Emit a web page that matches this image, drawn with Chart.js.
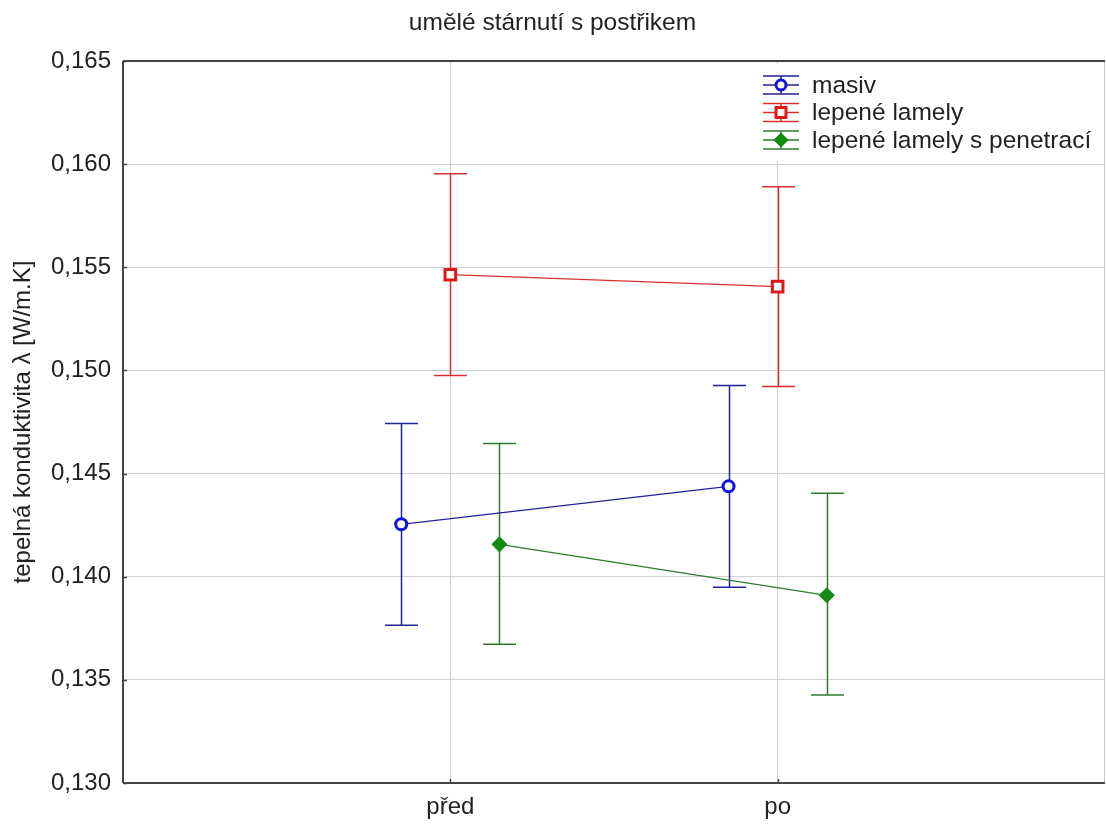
<!DOCTYPE html>
<html>
<head>
<meta charset="utf-8">
<script src="https://cdn.jsdelivr.net/npm/chart.js@4/dist/chart.umd.min.js"></script>
<style>
  html, body { margin: 0; padding: 0; background: #fff; overflow: hidden; }
  #wrap { width: 1106px; height: 825px; }
  canvas { display: block; }
</style>
</head>
<body>
<div id="wrap"><canvas id="chart" width="1106" height="825"></canvas></div>
<script>
const categories = ['před', 'po'];
const seriesNames = ['masiv', 'lepené lamely', 'lepené lamely s penetrací'];
const offsets = [-0.15, 0, 0.15];

const masivMean = [0.14254, 0.14438];
const masivLow = [0.13765, 0.13949];
const masivHigh = [0.14743, 0.14927];

const lamelyMean = [0.15464, 0.15406];
const lamelyLow = [0.14975, 0.14922];
const lamelyHigh = [0.15953, 0.15890];

const penetraceMean = [0.14157, 0.13910];
const penetraceLow = [0.13673, 0.13426];
const penetraceHigh = [0.14646, 0.14404];

const yTicks = [0.130, 0.135, 0.140, 0.145, 0.150, 0.155, 0.160, 0.165];

const markerColors = ['#1010e0', '#e01818', '#138a13'];
const lineColors = ['#22229a', '#d83030', '#2e7d2e'];
const pointStyles = ['circle', 'rect', 'rectRot'];
const pointRadius = [5.5, 7.5, 7];
const pointBorder = [3, 3, 1.5];
const pointFill = ['#ffffff', '#ffffff', '#138a13'];

const means = [masivMean, lamelyMean, penetraceMean];
const lows = [masivLow, lamelyLow, penetraceLow];
const highs = [masivHigh, lamelyHigh, penetraceHigh];

const FONT = '"Liberation Sans", Arial, sans-serif';

function toPoints(vals, off) {
    return vals.map((v, i) => ({ x: i + 1 + off, y: v }));
}

const datasets = seriesNames.map((name, s) => ({
    label: name,
    data: toPoints(means[s], offsets[s]),
    borderColor: lineColors[s],
    borderWidth: 1.3,
    pointStyle: pointStyles[s],
    pointRadius: pointRadius[s],
    pointBorderWidth: pointBorder[s],
    pointBorderColor: markerColors[s],
    pointBackgroundColor: pointFill[s],
    errLow: lows[s],
    errHigh: highs[s],
    errOffset: offsets[s]
}));

// error bars drawn through the chart scales
const errorBars = {
    id: 'errorBars',
    beforeDatasetsDraw(chart) {
        const ctx = chart.ctx;
        const xs = chart.scales.x, ys = chart.scales.y;
        ctx.save();
        chart.data.datasets.forEach((ds, s) => {
            ctx.strokeStyle = lineColors[s];
            ctx.lineWidth = 1.5;
            ds.errLow.forEach((lo, i) => {
                const px = Math.round(xs.getPixelForValue(i + 1 + ds.errOffset)) + 0.5;
                const yl = ys.getPixelForValue(lo);
                const yh = ys.getPixelForValue(ds.errHigh[i]);
                ctx.beginPath();
                ctx.moveTo(px, yl); ctx.lineTo(px, yh);
                ctx.moveTo(px - 16.5, yl); ctx.lineTo(px + 16.5, yl);
                ctx.moveTo(px - 16.5, yh); ctx.lineTo(px + 16.5, yh);
                ctx.stroke();
            });
        });
        ctx.restore();
    }
};

// frame, small inner ticks, legend inside the plot (top right)
const frameLegend = {
    id: 'frameLegend',
    afterDraw(chart) {
        const ctx = chart.ctx;
        const a = chart.chartArea;
        const xs = chart.scales.x, ys = chart.scales.y;
        ctx.save();
        ctx.strokeStyle = '#c8c8c8';
        ctx.lineWidth = 1;
        ctx.beginPath();
        ctx.moveTo(a.right - 0.5, a.top); ctx.lineTo(a.right - 0.5, a.bottom);
        ctx.stroke();
        ctx.strokeStyle = '#444';
        ctx.lineWidth = 2;
        ctx.beginPath();
        ctx.moveTo(a.left, a.top); ctx.lineTo(a.right, a.top);
        ctx.moveTo(a.left, a.top); ctx.lineTo(a.left, a.bottom);
        ctx.moveTo(a.left, a.bottom); ctx.lineTo(a.right, a.bottom);
        ctx.stroke();
        ctx.lineWidth = 1.5;
        ctx.beginPath();
        ys.ticks.forEach(t => {
            const py = Math.round(ys.getPixelForValue(t.value)) + 0.5;
            ctx.moveTo(a.left, py); ctx.lineTo(a.left + 4, py);
        });
        xs.ticks.forEach(t => {
            const px = Math.round(xs.getPixelForValue(t.value)) + 0.5;
            ctx.moveTo(px, a.bottom); ctx.lineTo(px, a.bottom - 4);
        });
        ctx.stroke();

        const lx = 762, ly = 64;
        ctx.fillStyle = '#fff';
        ctx.fillRect(lx, ly, a.right - lx - 2, 97);
        ctx.font = '24.5px ' + FONT;
        ctx.textBaseline = 'middle';
        chart.data.datasets.forEach((ds, s) => {
            const cy = 85 + s * 27.5;
            const cx = 781;
            ctx.strokeStyle = lineColors[s];
            ctx.lineWidth = 1.5;
            ctx.beginPath();
            ctx.moveTo(cx - 18, cy); ctx.lineTo(cx + 18, cy);
            ctx.moveTo(cx - 18, cy - 9); ctx.lineTo(cx + 18, cy - 9);
            ctx.moveTo(cx - 18, cy + 9); ctx.lineTo(cx + 18, cy + 9);
            ctx.moveTo(cx, cy - 9); ctx.lineTo(cx, cy + 9);
            ctx.stroke();
            ctx.strokeStyle = markerColors[s];
            ctx.fillStyle = pointFill[s];
            ctx.lineWidth = pointBorder[s];
            Chart.helpers.drawPoint(ctx, { pointStyle: pointStyles[s], radius: pointRadius[s] - 0.5, rotation: 0, borderWidth: pointBorder[s] }, cx, cy);
            ctx.fillStyle = '#222';
            ctx.fillText(ds.label, 812, cy + 1);
        });
        ctx.restore();
    }
};

new Chart(document.getElementById('chart'), {
    type: 'line',
    data: { datasets: datasets },
    options: {
        responsive: false,
        animation: false,
        layout: { autoPadding: false, padding: { left: 0, right: 1, top: 0, bottom: 0 } },
        plugins: {
            legend: { display: false },
            tooltip: { enabled: false },
            title: {
                display: true,
                text: 'umělé stárnutí s postřikem',
                color: '#222',
                font: { family: FONT, size: 24.5, weight: 'normal', lineHeight: 1.2 },
                padding: { top: 9, bottom: 22.6 }
            }
        },
        scales: {
            x: {
                type: 'linear',
                min: 0,
                max: 3,
                afterBuildTicks(scale) {
                    scale.ticks = categories.map((c, i) => ({ value: i + 1 }));
                },
                afterFit(scale) { scale.height = 42; },
                ticks: {
                    color: '#222',
                    padding: 10,
                    maxRotation: 0,
                    font: { family: FONT, size: 24 },
                    callback: (v) => categories[Math.round(v) - 1]
                },
                grid: { color: '#d0d0d0', lineWidth: 1, drawTicks: false },
                border: { display: false }
            },
            y: {
                min: 0.130,
                max: 0.165,
                afterBuildTicks(scale) {
                    scale.ticks = yTicks.map(v => ({ value: v }));
                },
                afterFit(scale) { scale.width = 123; },
                ticks: {
                    color: '#222',
                    padding: 12,
                    font: { family: FONT, size: 24 },
                    callback: (v) => v.toFixed(3).replace('.', ',')
                },
                grid: { color: '#d0d0d0', lineWidth: 1, drawTicks: false },
                border: { display: false },
                title: {
                    display: true,
                    text: 'tepelná konduktivita λ [W/m.K]',
                    color: '#222',
                    font: { family: FONT, size: 24, lineHeight: 1.2 },
                    padding: { top: 9, bottom: 4 }
                }
            }
        }
    },
    plugins: [errorBars, frameLegend]
});
</script>
</body>
</html>
